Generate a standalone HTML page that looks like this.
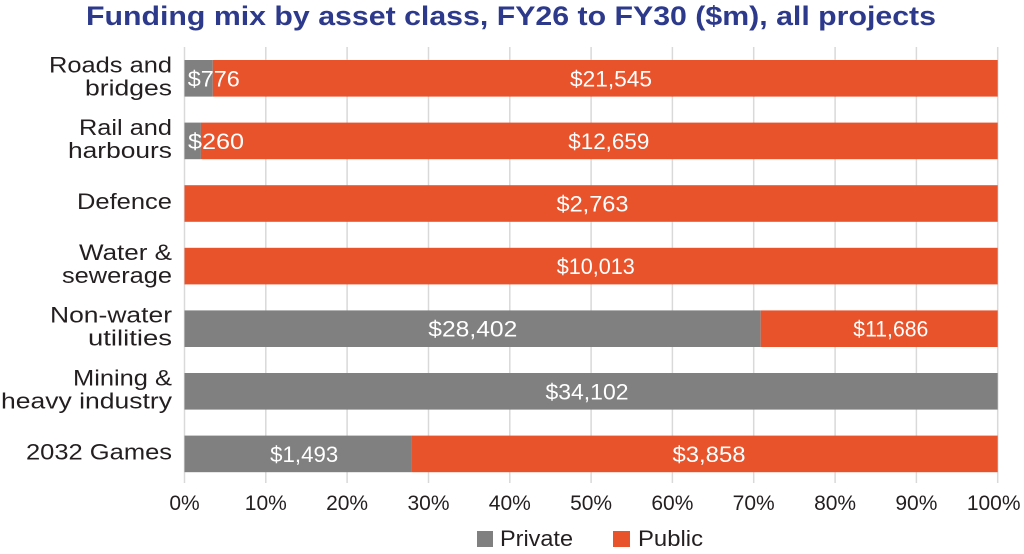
<!DOCTYPE html>
<html>
<head>
<meta charset="utf-8">
<style>
html,body{margin:0;padding:0;background:#fff;}
svg{display:block;}
text{font-family:"Liberation Sans",sans-serif;}
</style>
</head>
<body>
<svg width="1024" height="554" viewBox="0 0 1024 554" xmlns="http://www.w3.org/2000/svg">
<rect width="1024" height="554" fill="#fff"/>
<!-- Title -->
<text x="86" y="25" font-size="27" font-weight="bold" fill="#2d3a8c" textLength="850" lengthAdjust="spacingAndGlyphs">Funding mix by asset class, FY26 to FY30 ($m), all projects</text>

<!-- Gridlines -->
<g stroke="#d9d9d9" stroke-width="1.5">
<line x1="184.5" y1="47" x2="184.5" y2="483"/>
<line x1="265.8" y1="47" x2="265.8" y2="483"/>
<line x1="347.1" y1="47" x2="347.1" y2="483"/>
<line x1="428.5" y1="47" x2="428.5" y2="483"/>
<line x1="509.8" y1="47" x2="509.8" y2="483"/>
<line x1="591.1" y1="47" x2="591.1" y2="483"/>
<line x1="672.4" y1="47" x2="672.4" y2="483"/>
<line x1="753.7" y1="47" x2="753.7" y2="483"/>
<line x1="835.1" y1="47" x2="835.1" y2="483"/>
<line x1="916.4" y1="47" x2="916.4" y2="483"/>
<line x1="997.7" y1="47" x2="997.7" y2="483"/>
</g>

<!-- Bars -->
<g>
<rect x="184.5" y="60" width="28.3" height="36.6" fill="#808080"/>
<rect x="212.8" y="60" width="784.9" height="36.6" fill="#e8532b"/>

<rect x="184.5" y="122.6" width="16.4" height="36.6" fill="#808080"/>
<rect x="200.9" y="122.6" width="796.8" height="36.6" fill="#e8532b"/>

<rect x="184.5" y="185.2" width="813.2" height="36.6" fill="#e8532b"/>

<rect x="184.5" y="247.8" width="813.2" height="36.6" fill="#e8532b"/>

<rect x="184.5" y="310.4" width="576.2" height="36.6" fill="#808080"/>
<rect x="760.7" y="310.4" width="237" height="36.6" fill="#e8532b"/>

<rect x="184.5" y="373" width="813.2" height="36.6" fill="#808080"/>

<rect x="184.5" y="435.6" width="226.9" height="36.6" fill="#808080"/>
<rect x="411.4" y="435.6" width="586.3" height="36.6" fill="#e8532b"/>
</g>

<!-- Bar labels -->
<g fill="#ffffff" font-size="22" text-anchor="middle">
<text x="213.8" y="86.3" textLength="52" lengthAdjust="spacingAndGlyphs">$776</text>
<text x="611" y="86.3" textLength="82" lengthAdjust="spacingAndGlyphs">$21,545</text>
<text x="216" y="148.9" textLength="56" lengthAdjust="spacingAndGlyphs">$260</text>
<text x="608.8" y="148.9" textLength="81" lengthAdjust="spacingAndGlyphs">$12,659</text>
<text x="592.5" y="211.5" textLength="72" lengthAdjust="spacingAndGlyphs">$2,763</text>
<text x="595.8" y="274.1" textLength="78" lengthAdjust="spacingAndGlyphs">$10,013</text>
<text x="472.8" y="336.7" textLength="89" lengthAdjust="spacingAndGlyphs">$28,402</text>
<text x="890.8" y="336.7" textLength="75" lengthAdjust="spacingAndGlyphs">$11,686</text>
<text x="587" y="399.3" textLength="83" lengthAdjust="spacingAndGlyphs">$34,102</text>
<text x="304.2" y="461.9" textLength="68" lengthAdjust="spacingAndGlyphs">$1,493</text>
<text x="709" y="461.9" textLength="73" lengthAdjust="spacingAndGlyphs">$3,858</text>
</g>

<!-- Category labels -->
<g fill="#231f20" font-size="22" text-anchor="end">
<text x="172" y="72.3" textLength="123" lengthAdjust="spacingAndGlyphs">Roads and</text>
<text x="172" y="95.3" textLength="87" lengthAdjust="spacingAndGlyphs">bridges</text>
<text x="172" y="134.9" textLength="93" lengthAdjust="spacingAndGlyphs">Rail and</text>
<text x="172" y="157.9" textLength="104" lengthAdjust="spacingAndGlyphs">harbours</text>
<text x="172" y="209" textLength="95" lengthAdjust="spacingAndGlyphs">Defence</text>
<text x="172" y="260.1" textLength="93" lengthAdjust="spacingAndGlyphs">Water &amp;</text>
<text x="172" y="283.1" textLength="110" lengthAdjust="spacingAndGlyphs">sewerage</text>
<text x="172" y="322.7" textLength="122" lengthAdjust="spacingAndGlyphs">Non-water</text>
<text x="172" y="345.7" textLength="84" lengthAdjust="spacingAndGlyphs">utilities</text>
<text x="172" y="385.3" textLength="99" lengthAdjust="spacingAndGlyphs">Mining &amp;</text>
<text x="172" y="408.3" textLength="171" lengthAdjust="spacingAndGlyphs">heavy industry</text>
<text x="172" y="459.7" textLength="146" lengthAdjust="spacingAndGlyphs">2032 Games</text>
</g>

<!-- Tick labels -->
<g fill="#231f20" font-size="21" text-anchor="middle">
<text x="184.5" y="510">0%</text>
<text x="265.8" y="510">10%</text>
<text x="347.1" y="510">20%</text>
<text x="428.5" y="510">30%</text>
<text x="509.8" y="510">40%</text>
<text x="591.1" y="510">50%</text>
<text x="672.4" y="510">60%</text>
<text x="753.7" y="510">70%</text>
<text x="835.1" y="510">80%</text>
<text x="916.4" y="510">90%</text>
<text x="993.7" y="510">100%</text>
</g>

<!-- Legend -->
<rect x="477" y="531" width="16" height="16" fill="#808080"/>
<text x="500" y="546" font-size="22" fill="#231f20" textLength="73" lengthAdjust="spacingAndGlyphs">Private</text>
<rect x="613" y="531" width="17" height="16" fill="#e8532b"/>
<text x="638" y="546" font-size="22" fill="#231f20" textLength="65" lengthAdjust="spacingAndGlyphs">Public</text>
</svg>
</body>
</html>
